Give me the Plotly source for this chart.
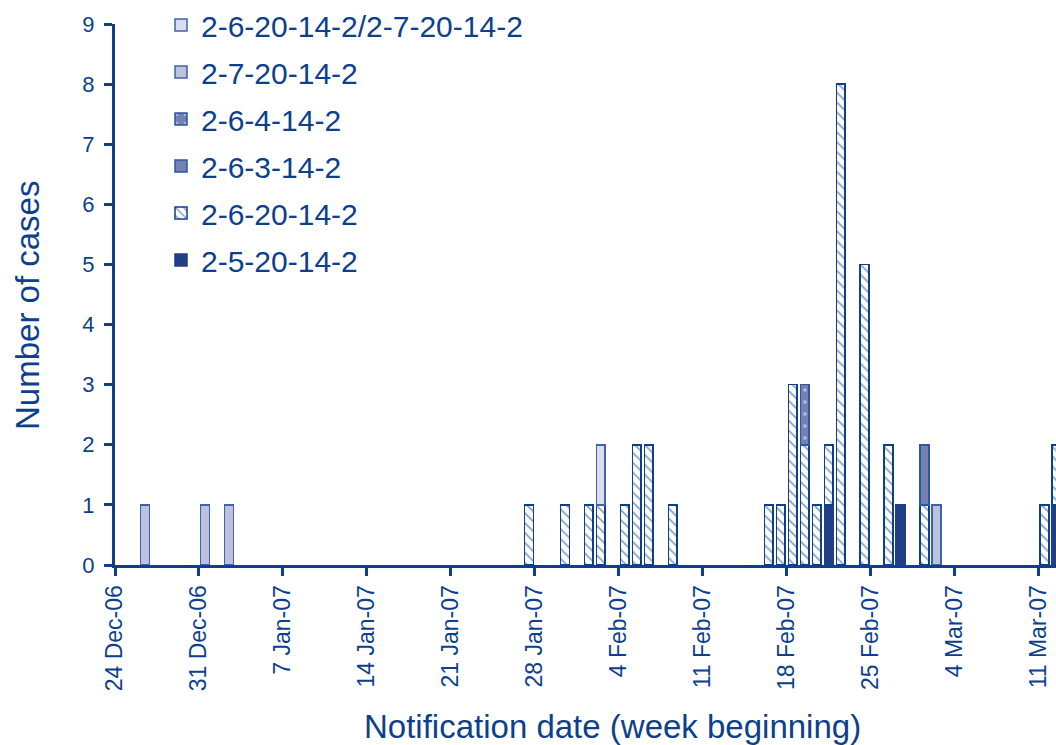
import plotly.graph_objects as go
import pandas as pd

# ---- data ----
week_ticks = ["2006-12-24", "2006-12-31", "2007-01-07", "2007-01-14", "2007-01-21",
              "2007-01-28", "2007-02-04", "2007-02-11", "2007-02-18", "2007-02-25",
              "2007-03-04", "2007-03-11"]
week_labels = ["24 Dec-06", "31 Dec-06", "7 Jan-07", "14 Jan-07", "21 Jan-07",
               "28 Jan-07", "4 Feb-07", "11 Feb-07", "18 Feb-07", "25 Feb-07",
               "4 Mar-07", "11 Mar-07"]

dates_2_5_20 = ["2007-02-21", "2007-02-27", "2007-03-12"]
vals_2_5_20 = [1, 1, 1]

dates_2_6_20 = ["2007-01-27", "2007-01-30", "2007-02-01", "2007-02-02", "2007-02-04",
                "2007-02-05", "2007-02-06", "2007-02-08", "2007-02-16", "2007-02-17",
                "2007-02-18", "2007-02-19", "2007-02-20", "2007-02-21", "2007-02-22",
                "2007-02-24", "2007-02-26", "2007-03-01", "2007-03-11", "2007-03-12"]
vals_2_6_20 = [1, 1, 1, 1, 1, 2, 2, 1, 1, 1, 3, 2, 1, 1, 8, 5, 2, 1, 1, 1]

dates_2_6_3 = ["2007-03-01"]
vals_2_6_3 = [1]

dates_2_6_4 = ["2007-02-19"]
vals_2_6_4 = [1]

dates_2_7_20 = ["2006-12-26", "2006-12-31", "2007-01-02", "2007-03-02"]
vals_2_7_20 = [1, 1, 1, 1]

dates_mixed = ["2007-02-02"]
vals_mixed = [1]

TEXT = "#0d3f8c"
FONT = "Liberation Sans, Arial, sans-serif"
DAY_MS = 86400000

W, H = 1056, 745
ML, MT = 115, 24
PH = 541
MB = H - MT - PH
PW = W - ML
PB = MT + PH  # plot bottom in pixels


def centre(ds):
    # bars sit in the middle of each day's slot
    return [pd.Timestamp(d) + pd.Timedelta(hours=12) for d in ds]


fig = go.Figure()

series = [
    ("2-5-20-14-2", dates_2_5_20, vals_2_5_20,
     dict(color="#213f88", line=dict(color="#213f88", width=1.5))),
    ("2-6-20-14-2", dates_2_6_20, vals_2_6_20,
     dict(color="white", line=dict(color=TEXT, width=1.5),
          pattern=dict(shape="\\", fgcolor=TEXT, bgcolor="white", size=7, solidity=0.25))),
    ("2-6-3-14-2", dates_2_6_3, vals_2_6_3,
     dict(color="#7680b4", line=dict(color="#2f56a0", width=1.5))),
    ("2-6-4-14-2", dates_2_6_4, vals_2_6_4,
     dict(color="#7680b4", line=dict(color="#2f56a0", width=1.5),
          pattern=dict(shape=".", fgcolor="white", bgcolor="#7680b4", size=12, solidity=0.06))),
    ("2-7-20-14-2", dates_2_7_20, vals_2_7_20,
     dict(color="#bcc1de", line=dict(color="#3d64a8", width=1.5))),
    ("2-6-20-14-2/2-7-20-14-2", dates_mixed, vals_mixed,
     dict(color="#dcdef0", line=dict(color="#3d64a8", width=1.5))),
]

for i, (name, ds, vs, marker) in enumerate(series):
    fig.add_trace(go.Bar(
        x=centre(ds), y=vs, name=name, marker=marker,
        width=0.74 * DAY_MS, legendgroup=name, legendrank=1000 - i,
    ))

x_start = pd.Timestamp("2006-12-24")
x_end = x_start + pd.Timedelta(days=78.45)

fig.update_layout(
    width=W, height=H,
    barmode="stack",
    plot_bgcolor="white", paper_bgcolor="white",
    margin=dict(l=ML, r=0, t=MT, b=MB, autoexpand=False),
    font=dict(family=FONT, color=TEXT),
    showlegend=True,
    legend=dict(
        x=(161 - ML) / PW, y=1 + (MT + 1) / PH, xanchor="left", yanchor="top",
        traceorder="grouped", tracegroupgap=5,
        font=dict(size=30, color=TEXT, family=FONT),
        bgcolor="rgba(0,0,0,0)",
    ),
    xaxis=dict(
        type="date", range=[x_start, x_end], automargin=False,
        tickmode="array", tickvals=week_ticks, ticktext=week_labels,
        tickangle=-90, tickfont=dict(size=23, color=TEXT),
        ticks="outside", ticklen=8, tickwidth=2.5, tickcolor=TEXT,
        showline=True, linewidth=3, linecolor=TEXT,
        showgrid=False, zeroline=False,
    ),
    yaxis=dict(
        range=[0, 9], dtick=1, tick0=0, automargin=False,
        tickfont=dict(size=22, color=TEXT), ticklabelstandoff=5,
        ticks="outside", ticklen=8, tickwidth=2.5, tickcolor=TEXT,
        showline=True, linewidth=3, linecolor=TEXT,
        showgrid=False, zeroline=False,
    ),
    annotations=[
        dict(text="Notification date (week beginning)", xref="paper", yref="paper",
             x=(612 - ML) / PW, y=-(726 - PB) / PH,
             xanchor="center", yanchor="middle", showarrow=False,
             font=dict(size=33, color=TEXT, family=FONT)),
        dict(text="Number of cases", xref="paper", yref="paper",
             x=-(ML - 28) / PW, y=(PB - 306) / PH,
             xanchor="center", yanchor="middle", showarrow=False, textangle=-90,
             font=dict(size=33, color=TEXT, family=FONT)),
    ],
)

# remove the page's default 8px body margin and any scrollbars
page_css = ("document.body.style.margin='0';"
            "document.body.style.padding='0';"
            "document.documentElement.style.overflow='hidden';"
            "document.body.style.overflow='hidden';")

fig.write_html("out.html", post_script=page_css, config={"displayModeBar": False})
